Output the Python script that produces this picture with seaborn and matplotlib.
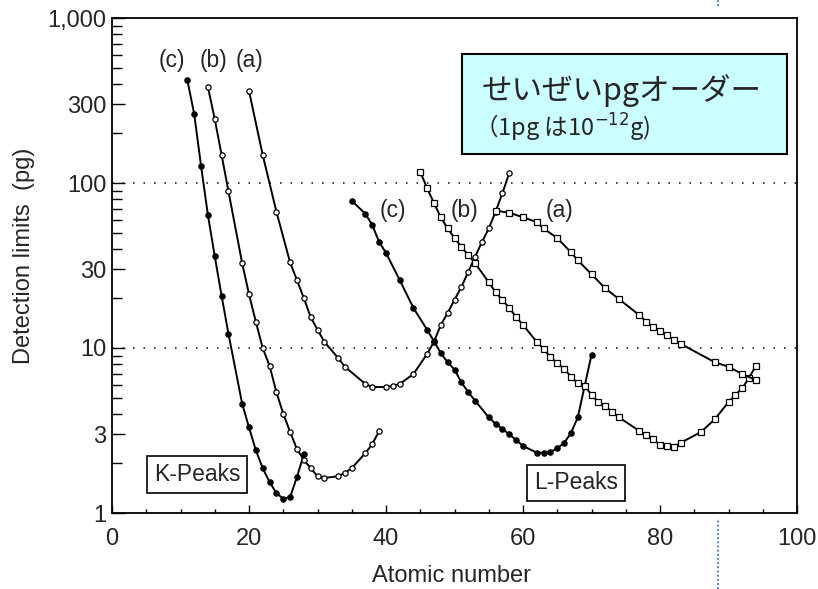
import numpy as np
import matplotlib
matplotlib.use("Agg")
import matplotlib.pyplot as plt
from matplotlib.ticker import FixedLocator, NullFormatter
from matplotlib.lines import Line2D
import seaborn as sns

# ---------------------------------------------------------
# Daten
# ---------------------------------------------------------
# K-Linien
k_c_z = [11, 12, 13, 14, 15, 16, 17, 19, 20, 21, 22, 23, 24, 25, 26, 27, 28]
k_c_y = [420, 262, 127, 64, 36, 20.7, 12.2, 4.6, 3.3, 2.4, 1.87, 1.54, 1.32, 1.22, 1.25, 1.65, 2.27]

k_b_z = [14, 15, 16, 17, 19, 20, 21, 22, 23, 24, 25, 26, 27, 28, 29, 30, 31, 33, 34, 35, 37, 38, 39]
k_b_y = [382, 244, 148, 89, 32.7, 21.2, 14.4, 10, 7.8, 5.4, 4.0, 3.1, 2.44, 2.1, 1.87, 1.67, 1.63,
         1.67, 1.75, 1.87, 2.31, 2.62, 3.14]

k_a_z = [20, 22, 24, 26, 27, 28, 29, 30, 31, 33, 34, 37, 38, 40, 41, 42, 44, 46, 47, 48, 49, 50,
         51, 52, 53, 54, 55, 56, 57, 58]
k_a_y = [361, 148, 67, 33, 25.8, 20.1, 15.4, 12.9, 10.9, 8.7, 7.7, 6.05, 5.8, 5.8, 5.9, 6.05, 6.95,
         9.2, 10.9, 13.8, 16.3, 19.6, 23.4, 28.9, 35.7, 43.8, 53, 67, 87, 115]

# L-Linien
l_c_z = [35, 37, 38, 39, 40, 42, 44, 46, 47, 48, 49, 50, 51, 52, 53, 55, 56, 57, 58, 59, 60, 62,
         63, 64, 65, 66, 67, 68, 70]
l_c_y = [78, 65, 55.6, 43.9, 37.7, 25.8, 17.5, 12.9, 11, 9.3, 8.2, 7.4, 6.2, 5.4, 4.8, 3.8, 3.47,
         3.23, 3.0, 2.77, 2.55, 2.32, 2.32, 2.34, 2.47, 2.66, 3.05, 3.8, 9.1]

l_b_z = [45, 46, 47, 48, 49, 50, 51, 52, 53, 55, 56, 57, 58, 59, 60, 62, 63, 64, 65, 66, 67, 68,
         69, 70, 71, 72, 73, 74, 77, 78, 79, 80, 81, 82, 83, 86, 88, 90, 91, 92, 93, 94]
l_b_y = [117, 93, 75.6, 62, 53, 46.4, 41, 36.6, 32.7, 25, 21.8, 19.5, 17.5, 15.4, 13.8, 10.9, 9.9,
         8.8, 8.1, 7.5, 6.7, 6.1, 5.9, 5.2, 4.7, 4.45, 4.1, 3.8, 3.14, 2.97, 2.8, 2.58, 2.55, 2.51,
         2.66, 3.1, 3.7, 4.7, 5.2, 5.7, 6.6, 7.8]

l_a_z = [56, 58, 60, 62, 63, 65, 67, 68, 70, 72, 74, 77, 78, 79, 80, 81, 82, 83, 88, 90, 92, 94]
l_a_y = [68, 66, 62, 58, 53, 46.4, 38, 34, 28, 23, 19.8, 15.8, 14.4, 13.4, 12.7, 12, 11.2, 10.6,
         8.2, 7.7, 6.95, 6.4]

y_ticks = [1, 3, 10, 30, 100, 300, 1000]
y_ticklabels = ["1", "3", "10", "30", "100", "300", "1,000"]
x_ticks = [0, 20, 40, 60, 80, 100]

sns.set_theme(style="ticks")
plt.rcParams['font.family'] = ['Liberation Sans', 'DejaVu Sans']
plt.rcParams['mathtext.fontset'] = 'dejavusans'

fig = plt.figure(figsize=(8.18, 5.89), dpi=100)
ax = fig.add_axes([112 / 818, 1 - 513 / 589, 685 / 818, 495 / 589])

# Kurven
series = [
    (k_c_z, k_c_y, 'o', 'black'),
    (k_b_z, k_b_y, 'o', 'white'),
    (k_a_z, k_a_y, 'o', 'white'),
    (l_c_z, l_c_y, 'o', 'black'),
    (l_b_z, l_b_y, 's', 'white'),
    (l_a_z, l_a_y, 's', 'white'),
]
for z, y, m, fc in series:
    sns.lineplot(x=z, y=y, ax=ax, color='black', linewidth=1.4, marker=m,
                 markersize=3.8, markerfacecolor=fc, markeredgecolor='black',
                 markeredgewidth=0.9, sort=False)

# gepunktete Hilfslinien
for yv in [10, 100]:
    ax.axhline(yv, color='#444444', linewidth=1.4, linestyle=(0, (0.8, 4.6)), zorder=0)

ax.set_yscale('log')
ax.set_xlim(0, 100)
ax.set_ylim(1, 1000)

ax.yaxis.set_major_locator(FixedLocator(y_ticks))
ax.set_yticklabels(y_ticklabels)
minor_y = [v * m for v in [1, 10, 100] for m in [2, 4, 5, 6, 7, 8, 9]]
ax.yaxis.set_minor_locator(FixedLocator(minor_y))
ax.yaxis.set_minor_formatter(NullFormatter())
ax.set_xticks(x_ticks)
ax.xaxis.set_minor_locator(FixedLocator(list(range(5, 100, 5))))

ax.tick_params(axis='both', which='both', direction='in', color='black', width=1.0)
ax.tick_params(axis='y', which='major', length=9, pad=4, labelsize=17)
ax.tick_params(axis='y', which='minor', length=7.5)
ax.tick_params(axis='x', which='major', length=6, pad=11, labelsize=17)
ax.tick_params(axis='x', which='minor', length=3)

for s in ax.spines.values():
    s.set_visible(True)
    s.set_color('black')
    s.set_linewidth(1.3)

ax.set_xlabel('Atomic number', fontsize=17, va='center')
ax.set_ylabel('Detection limits  (pg)', fontsize=17, va='center')
ax.xaxis.set_label_coords(0.496, -0.128)
ax.yaxis.set_label_coords(-0.128, 0.52)

# Beschriftungen (a), (b), (c)
for xt, yt, t in [(8.8, 556, '(c)'), (14.8, 556, '(b)'), (20.1, 556, '(a)'),
                  (41.0, 68, '(c)'), (51.5, 68, '(b)'), (65.4, 68, '(a)')]:
    ax.text(xt, yt, t, fontsize=16.5, ha='center', va='center')

box = dict(boxstyle='square,pad=0.3', facecolor='white', edgecolor='black', linewidth=1.2)
ax.text(12.4, 1.72, 'K-Peaks', fontsize=16.5, ha='center', va='center', bbox=box)
ax.text(67.7, 1.52, 'L-Peaks', fontsize=16.5, ha='center', va='center', bbox=box)

# Japanischer Hinweiskasten
fig.patches.append(plt.Rectangle((462 / 818, 1 - 154 / 589), 325 / 818, 100 / 589,
                                 transform=fig.transFigure, facecolor='#CCFFFF',
                                 edgecolor='black', linewidth=1.5, zorder=5))
fig.text(482 / 818, 1 - 90 / 589, 'せいぜいpgオーダー', fontsize=22, va='center', ha='left',
         family=['Noto Sans CJK JP', 'DejaVu Sans'], zorder=6)
fig.text(474 / 818, 1 - 128 / 589, '（1pg は10$^{-12}$g)', fontsize=17, va='center', ha='left',
         family=['Noto Sans CJK JP', 'DejaVu Sans'], zorder=6)

# blaue gepunktete Linie (Folienrand)
fig.add_artist(Line2D([718 / 818, 718 / 818], [0, 1 - 518 / 589], transform=fig.transFigure,
                      color='#3050D0', linewidth=1.2, linestyle=(0, (1, 1.5))))
fig.add_artist(Line2D([718 / 818, 718 / 818], [1 - 6 / 589, 1], transform=fig.transFigure,
                      color='#3050D0', linewidth=1.2, linestyle=(0, (1, 1.5))))

fig.savefig('out.png', dpi=100)
